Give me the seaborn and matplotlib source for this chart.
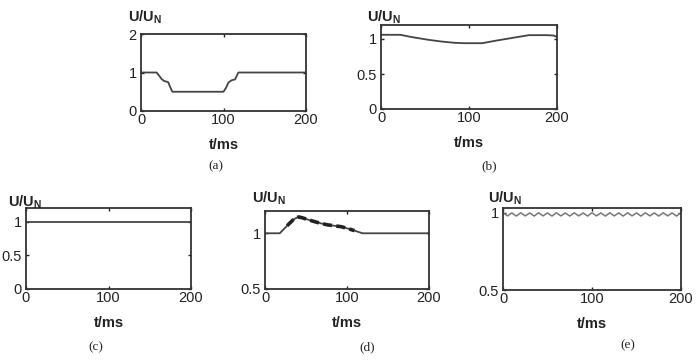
import numpy as np
import pandas as pd
import matplotlib
matplotlib.use('Agg')
import matplotlib.pyplot as plt
import seaborn as sns

# panel (a): voltage sag
t_a = [0, 19, 25, 28, 33, 35, 38, 100, 103, 106, 110, 114, 118, 200]
u_a = [1.0, 1.0, 0.83, 0.78, 0.75, 0.64, 0.5, 0.5, 0.6, 0.74, 0.8, 0.82, 1.0, 1.0]

# panel (b): slow fluctuation
t_b = [0, 22, 34, 53, 68, 84, 95, 115, 130, 149, 168, 188, 196, 200]
u_b = [1.06, 1.06, 1.03, 0.99, 0.965, 0.945, 0.94, 0.94, 0.975, 1.015, 1.055, 1.055, 1.05, 1.03]

# panel (c): nominal
t_c = [0, 200]
u_c = [1.0, 1.0]

# panel (d): swell
t_d = [0, 18, 27, 35, 41, 46, 51, 57, 64, 70, 76, 84, 93, 99, 109, 119, 200]
u_d = [1.0, 1.0, 1.068, 1.126, 1.147, 1.138, 1.126, 1.112, 1.097, 1.086, 1.076, 1.068, 1.059, 1.047, 1.024, 1.0, 1.0]

# panel (e): ripple
t_e = [0, 5, 10, 15, 20, 25, 30, 35, 40, 45, 50, 55, 60, 65, 70, 75, 80, 85, 90, 95, 100,
       105, 110, 115, 120, 125, 130, 135, 140, 145, 150, 155, 160, 165, 170, 175, 180, 185, 190, 195, 200]
u_e = [1.0, 0.979, 0.998, 0.978, 0.999, 0.979, 0.998, 0.978, 0.999, 0.979, 0.998, 0.978, 0.999, 0.979,
       0.998, 0.978, 0.999, 0.979, 0.998, 0.978, 0.999, 0.979, 0.998, 0.978, 0.999, 0.979, 0.998,
       0.978, 0.999, 0.979, 0.998, 0.978, 0.999, 0.979, 0.998, 0.978, 0.999, 0.979, 0.998, 0.978, 1.0]

xticks = [0, 100, 200]
xticklabels = ['0', '100', '200']

sns.set_style('ticks')
plt.rcParams['font.family'] = ['Liberation Sans', 'DejaVu Sans']
plt.rcParams['mathtext.fontset'] = 'custom'
plt.rcParams['mathtext.bf'] = 'Liberation Sans:bold'
plt.rcParams['mathtext.rm'] = 'Liberation Sans'

W, H = 697, 360
fig = plt.figure(figsize=(W / 100, H / 100), dpi=100)


def px_axes(l, r, t, b):
    return fig.add_axes([l / W, 1 - b / H, (r - l) / W, (b - t) / H])


def style(ax, ylim, yticks, yticklabels):
    ax.set_xlim(0, 200)
    ax.set_ylim(*ylim)
    ax.set_xticks(xticks)
    ax.set_xticklabels(xticklabels)
    ax.set_yticks(yticks)
    ax.set_yticklabels(yticklabels)
    ax.tick_params(direction='in', length=2, width=1, top=True, right=True,
                   labelsize=10.5, colors='#222222')
    ax.tick_params(axis='x', pad=1.5)
    ax.tick_params(axis='y', pad=3)
    for s in ax.spines.values():
        s.set_color('#333333')
        s.set_linewidth(1.3)
    ax.set_xlabel('t/ms', fontsize=10.5, fontweight='bold', labelpad=8, color='#222222')
    ax.set_ylabel('')


line_kw = dict(color='#444444', linewidth=1.3)

ax = px_axes(141, 306, 34, 111)
sns.lineplot(x=t_a, y=u_a, ax=ax, **line_kw)
style(ax, (0, 2), [0, 1, 2], ['0', '1', '2'])

ax = px_axes(381, 557, 25, 109)
sns.lineplot(x=t_b, y=u_b, ax=ax, **line_kw)
style(ax, (0, 1.2), [0, 0.5, 1], ['0', '0.5', '1'])

ax = px_axes(26, 191, 208, 289)
sns.lineplot(x=t_c, y=u_c, ax=ax, **line_kw)
style(ax, (0, 1.2), [0, 0.5, 1], ['0', '0.5', '1'])

ax = px_axes(265, 429, 211, 289)
sns.lineplot(x=t_d, y=u_d, ax=ax, **line_kw)
# thick blotchy trace on the decay part
sns.lineplot(x=t_d[2:15], y=u_d[2:15], ax=ax, color='#222222', linewidth=2.6,
             linestyle=(0, (2.5, 1.2)))
style(ax, (0.5, 1.2), [0.5, 1], ['0.5', '1'])

ax = px_axes(503, 681, 208, 290)
sns.lineplot(x=t_e, y=u_e, ax=ax, color='#777777', linewidth=1.1)
style(ax, (0.5, 1.03), [0.5, 1], ['0.5', '1'])

# y labels above each panel
ylab = r'$\mathbf{U/U_N}$'
for x, y in [(128, 17), (367, 17), (8, 202), (252, 198), (488, 198)]:
    fig.text(x / W, 1 - y / H, ylab, fontsize=10.5, ha='left', va='center', color='#222222')

# captions
for name, x, y in [('(a)', 216, 166), ('(b)', 489, 166), ('(c)', 96, 347),
                   ('(d)', 367, 347), ('(e)', 628, 345)]:
    fig.text(x / W, 1 - y / H, name, fontsize=9.5, ha='center', va='center',
             family='Liberation Serif', color='#222222')

fig.savefig('out.png', dpi=100, facecolor='white')
